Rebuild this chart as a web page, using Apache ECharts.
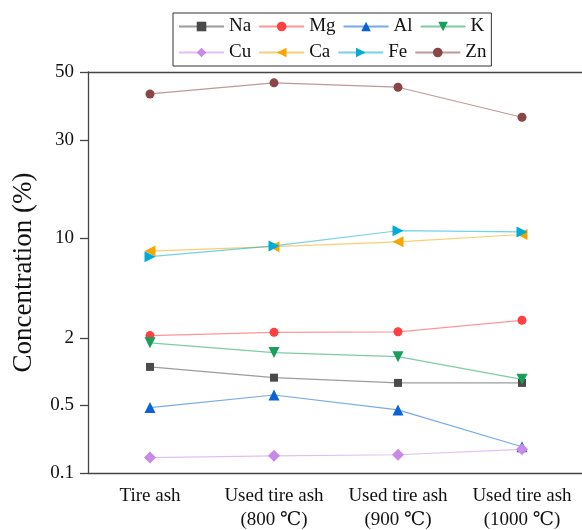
<!DOCTYPE html>
<html>
<head>
<meta charset="utf-8">
<script src="https://cdn.jsdelivr.net/npm/echarts@6/dist/echarts.min.js"></script>
<style>
  html, body { margin: 0; padding: 0; background: #fff; }
  #chart { width: 582px; height: 530px; }
</style>
</head>
<body>
<div id="chart"></div>
<script>
// samples along the x axis
const categories = ["Tire ash", "Used tire ash\n(800 ℃)", "Used tire ash\n(900 ℃)", "Used tire ash\n(1000 ℃)"];

// element concentrations (%)
const na = [1.10, 0.88, 0.79, 0.79];
const mg = [2.08, 2.19, 2.21, 2.66];
const al = [0.47, 0.615, 0.445, 0.186];
const k = [1.81, 1.48, 1.36, 0.85];
const cu = [0.144, 0.150, 0.154, 0.175];
const ca = [8.1, 8.7, 9.4, 10.4];
const fe = [7.4, 8.8, 10.85, 10.7];
const zn = [42.4, 46.1, 44.6, 35.6];

// the y axis is broken into log segments between these labels
const yTicks = [0.1, 0.5, 2, 10, 30, 50];
const yTickPos = [0, 68, 135, 235, 333, 401];

function toPos(v) {
  let i = 0;
  while (i < yTicks.length - 2 && v > yTicks[i + 1]) i++;
  const f = Math.log(v / yTicks[i]) / Math.log(yTicks[i + 1] / yTicks[i]);
  return yTickPos[i] + f * (yTickPos[i + 1] - yTickPos[i]);
}

const serif = "'Liberation Serif', 'Times New Roman', 'DejaVu Serif', serif";

function mk(name, data, color, symbol, size, rotate) {
  return {
    name: name,
    type: "line",
    data: data.map(toPos),
    symbol: symbol,
    symbolSize: size,
    symbolRotate: rotate || 0,
    showSymbol: true,
    itemStyle: { color: color, opacity: 1 },
    lineStyle: { color: color, width: 1.2, opacity: 0.55 },
    z: 3
  };
}

const chart = echarts.init(document.getElementById("chart"));
chart.setOption({
  animation: false,
  textStyle: { fontFamily: serif },
  legend: {
    left: 173,
    top: 13,
    width: 322,
    padding: [4, 5],
    itemGap: 7,
    itemWidth: 45,
    itemHeight: 12,
    borderColor: "#333",
    borderWidth: 1,
    textStyle: { fontFamily: serif, fontSize: 19, color: "#111" },
    data: ["Na", "Mg", "Al", "K", "Cu", "Ca", "Fe", "Zn"]
  },
  grid: {
    left: 88,
    top: 72,
    width: 496,
    height: 401,
    containLabel: false,
    outerBoundsMode: "none"
  },
  xAxis: [
    {
      type: "category",
      data: categories,
      boundaryGap: true,
      axisLine: { lineStyle: { color: "#444", width: 1.3 } },
      axisTick: { alignWithLabel: true, length: 6, lineStyle: { color: "#444", width: 1.3 } },
      axisLabel: {
        interval: 0,
        margin: 11,
        fontFamily: serif,
        fontSize: 19,
        lineHeight: 24,
        color: "#111"
      }
    },
    {
      type: "category",
      data: categories,
      position: "bottom",
      boundaryGap: true,
      axisLine: { show: false },
      axisTick: { length: 3, lineStyle: { color: "#444", width: 1.3 } },
      axisLabel: { show: false }
    },
    {
      type: "category",
      data: categories,
      position: "top",
      axisLine: { lineStyle: { color: "#444", width: 1.3 } },
      axisTick: { show: false },
      axisLabel: { show: false }
    }
  ],
  yAxis: {
    type: "value",
    min: 0,
    max: 401,
    name: "Concentration (%)",
    nameLocation: "middle",
    nameGap: 51,
    nameTextStyle: { fontFamily: serif, fontSize: 27, color: "#111" },
    splitLine: { show: false },
    axisLine: { show: true, lineStyle: { color: "#444", width: 1.3 } },
    axisTick: { show: true, length: 8, customValues: yTickPos, lineStyle: { color: "#444", width: 1.3 } },
    axisLabel: {
      customValues: yTickPos,
      margin: 14,
      fontFamily: serif,
      fontSize: 19,
      color: "#111",
      formatter: function (v) {
        const i = yTickPos.indexOf(v);
        return i >= 0 ? String(yTicks[i]) : "";
      }
    }
  },
  series: [
    mk("Na", na, "#4a4a4a", "rect", 8),
    mk("Mg", mg, "#ff4040", "circle", 9),
    mk("Al", al, "#0a62d8", "triangle", 11),
    mk("K", k, "#16a05c", "triangle", 11, 180),
    mk("Cu", cu, "#c88ae8", "diamond", 12),
    mk("Ca", ca, "#f5a600", "triangle", 11, 90),
    mk("Fe", fe, "#00acd6", "triangle", 11, -90),
    mk("Zn", zn, "#8a4646", "circle", 9)
  ]
});
</script>
</body>
</html>
